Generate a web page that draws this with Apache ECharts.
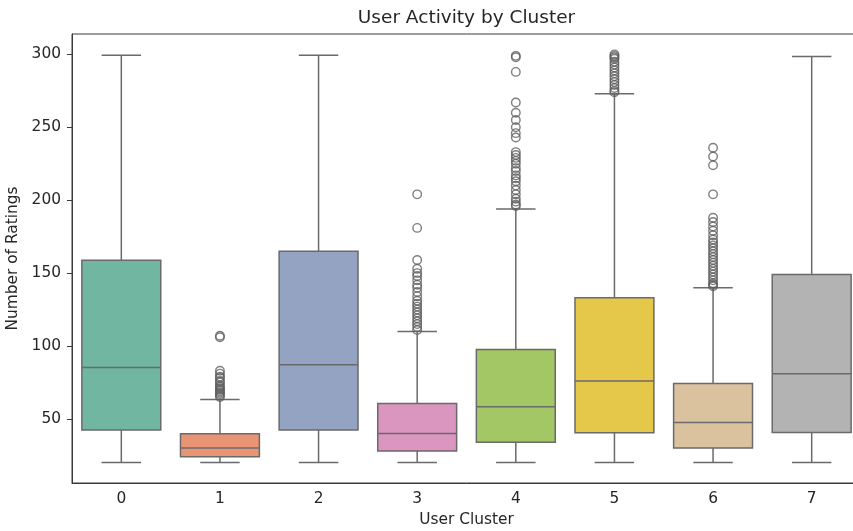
<!DOCTYPE html>
<html>
<head>
<meta charset="utf-8">
<script src="https://cdn.jsdelivr.net/npm/echarts@6/dist/echarts.min.js"></script>
<style>
  html, body { margin: 0; padding: 0; background: #ffffff; overflow: hidden; }
  #chart { width: 861px; height: 531px; }
</style>
</head>
<body>
<div id="chart"></div>
<script>
// Cluster labels on the x axis
const clusters = ['0', '1', '2', '3', '4', '5', '6', '7'];

// Box statistics per cluster: [lower whisker, Q1, median, Q3, upper whisker]
const boxStats = [
  [20, 42.4, 85.3, 158.8, 299.5],
  [20, 24, 30, 39.7, 63.3],
  [20, 42.4, 87.2, 165, 299.5],
  [20, 28, 40, 60.5, 110],
  [20, 34, 58.3, 97.5, 194],
  [20, 40.4, 76, 133, 273],
  [20, 30, 47.5, 74.3, 140],
  [20, 40.6, 81, 149, 298.5]
];

// Outlier values per cluster (beyond the whiskers)
const outliers0 = [];
const outliers1 = [107, 106, 83, 81, 79, 78, 76, 75, 73, 72, 71, 70, 69, 68, 67, 66, 65];
const outliers2 = [];
const outliers3 = [204, 181, 159, 153, 150, 148, 145, 142, 140, 137, 134, 131, 129, 127, 125, 123, 121, 119, 117, 115, 113, 111];
const outliers4 = [299, 298, 288, 267, 260, 255, 250, 246, 243, 233, 231, 229, 227, 225, 222, 220, 217, 215, 213, 210, 207, 204, 201, 199, 197, 196];
const outliers5 = [300, 299, 298, 297, 295, 293, 291, 289, 287, 285, 283, 281, 279, 277, 275, 274];
const outliers6 = [236, 230, 224, 204, 188, 185, 182, 179, 176, 173, 171, 169, 167, 165, 163, 161, 159, 157, 155, 153, 151, 149, 147, 145, 143, 142, 141];
const outliers7 = [];

// Y axis tick labels
const yTicks = [50, 100, 150, 200, 250, 300];

// Box fill colours (muted Set2)
const boxColors = ['#71b6a1', '#e99575', '#95a3c3', '#db96c0', '#a2c764', '#e5c849', '#dbc29e', '#b3b3b3'];
const lineColor = '#6a6a6a';
const fontFamily = 'DejaVu Sans';

const allOutliers = [outliers0, outliers1, outliers2, outliers3, outliers4, outliers5, outliers6, outliers7];
const boxData = boxStats.map((s, i) => [i].concat(s));
const outlierData = [];
allOutliers.forEach((arr, i) => arr.forEach(v => outlierData.push([i, v])));

function renderBox(params, api) {
  const idx = api.value(0);
  const low = api.coord([idx, api.value(1)]);
  const q1 = api.coord([idx, api.value(2)]);
  const med = api.coord([idx, api.value(3)]);
  const q3 = api.coord([idx, api.value(4)]);
  const high = api.coord([idx, api.value(5)]);
  const band = api.size([1, 0])[0];
  const cx = low[0];
  const hw = band * 0.4;
  const cw = band * 0.2;
  const lineStyle = { stroke: lineColor, lineWidth: 1.5, fill: null };
  return {
    type: 'group',
    children: [
      { type: 'line', shape: { x1: cx, y1: q3[1], x2: cx, y2: high[1] }, style: lineStyle },
      { type: 'line', shape: { x1: cx, y1: q1[1], x2: cx, y2: low[1] }, style: lineStyle },
      { type: 'line', shape: { x1: cx - cw, y1: high[1], x2: cx + cw, y2: high[1] }, style: lineStyle },
      { type: 'line', shape: { x1: cx - cw, y1: low[1], x2: cx + cw, y2: low[1] }, style: lineStyle },
      { type: 'rect', shape: { x: cx - hw, y: q3[1], width: hw * 2, height: q1[1] - q3[1] },
        style: { fill: boxColors[idx], stroke: lineColor, lineWidth: 1.5 } },
      { type: 'line', shape: { x1: cx - hw, y1: med[1], x2: cx + hw, y2: med[1] }, style: lineStyle }
    ]
  };
}

const chart = echarts.init(document.getElementById('chart'), null, { renderer: 'canvas' });
chart.setOption({
  animation: false,
  backgroundColor: '#ffffff',
  title: {
    text: 'User Activity by Cluster',
    left: 466.5,
    top: 9,
    padding: 0,
    textAlign: 'center',
    textStyle: { fontFamily: fontFamily, fontSize: 18.5, fontWeight: 'normal', color: '#262626' }
  },
  grid: {
    left: 72, right: 0, top: 34, bottom: 48,
    outerBoundsMode: 'none',
    containLabel: false,
    show: true, borderColor: '#3a3a3a', borderWidth: 1, backgroundColor: 'transparent'
  },
  xAxis: {
    type: 'category',
    data: clusters,
    boundaryGap: true,
    name: 'User Cluster',
    nameLocation: 'middle',
    nameGap: 29,
    nameTextStyle: { fontFamily: fontFamily, fontSize: 15.4, color: '#262626' },
    axisLine: { lineStyle: { color: '#3a3a3a', width: 1 } },
    axisTick: { alignWithLabel: true, length: 5, lineStyle: { color: '#3a3a3a' } },
    axisLabel: { fontFamily: fontFamily, fontSize: 15.4, color: '#262626', margin: 8 },
    splitLine: { show: false }
  },
  yAxis: {
    type: 'value',
    min: 6,
    max: 314,
    name: 'Number of Ratings',
    nameLocation: 'middle',
    nameRotate: 90,
    nameGap: 43,
    nameTextStyle: { fontFamily: fontFamily, fontSize: 15.4, color: '#262626' },
    axisLine: { show: true, lineStyle: { color: '#3a3a3a', width: 1 } },
    axisTick: { show: true, length: 5, customValues: yTicks, lineStyle: { color: '#3a3a3a' } },
    axisLabel: { fontFamily: fontFamily, fontSize: 15.4, color: '#262626', margin: 11, customValues: yTicks },
    splitLine: { show: false }
  },
  series: [
    {
      type: 'custom',
      name: 'box',
      renderItem: renderBox,
      encode: { x: 0, y: [1, 2, 3, 4, 5] },
      data: boxData,
      z: 2
    },
    {
      type: 'scatter',
      name: 'outliers',
      data: outlierData,
      symbol: 'circle',
      symbolSize: 8.5,
      itemStyle: { color: 'rgba(255,255,255,0)', borderColor: '#5e5e5e', borderWidth: 1.4 },
      z: 3
    }
  ]
});
</script>
</body>
</html>
